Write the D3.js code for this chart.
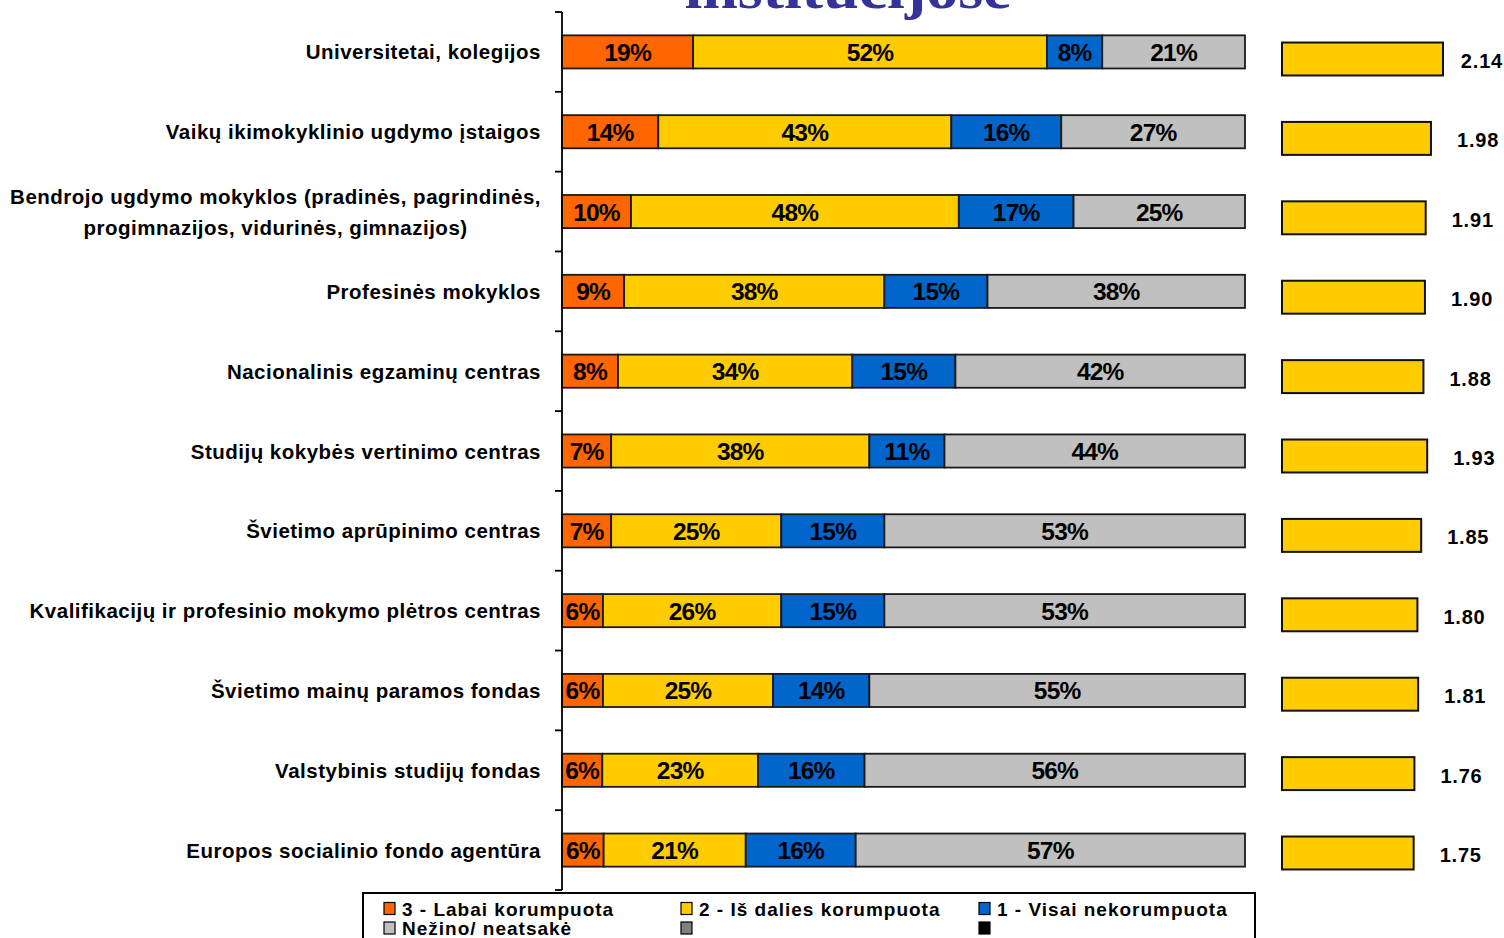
<!DOCTYPE html>
<html>
<head>
<meta charset="utf-8">
<script src="https://cdn.jsdelivr.net/npm/d3@7"></script>
<style>
  html, body { margin: 0; padding: 0; background: #fff; }
  svg { display: block; }
  text { font-family: "Liberation Sans", Arial, sans-serif; font-weight: bold; }
</style>
</head>
<body>
<svg id="chart" width="1504" height="938"></svg>
<script>
// ---------- DATA ----------
const categories = [
  "Universitetai, kolegijos",
  "Vaikų ikimokyklinio ugdymo įstaigos",
  "Bendrojo ugdymo mokyklos (pradinės, pagrindinės,\nprogimnazijos, vidurinės, gimnazijos)",
  "Profesinės mokyklos",
  "Nacionalinis egzaminų centras",
  "Studijų kokybės vertinimo centras",
  "Švietimo aprūpinimo centras",
  "Kvalifikacijų ir profesinio mokymo plėtros centras",
  "Švietimo mainų paramos fondas",
  "Valstybinis studijų fondas",
  "Europos socialinio fondo agentūra"
];
// 3 - Labai korumpuota
const labaiKorumpuota = [19.2, 14.1, 10.1, 9.1, 8.2, 7.2, 7.2, 6.0, 6.0, 5.9, 6.1];
// 2 - Iš dalies korumpuota
const isDaliesKorumpuota = [51.8, 42.9, 48.0, 38.1, 34.3, 37.8, 24.9, 26.1, 24.9, 22.8, 20.8];
// 1 - Visai nekorumpuota
const visaiNekorumpuota = [8.1, 16.1, 16.8, 15.1, 15.1, 11.0, 15.1, 15.1, 14.1, 15.6, 16.1];
// Nežino / neatsakė
const nezinoNeatsake = [20.9, 26.9, 25.1, 37.7, 42.4, 44.0, 52.8, 52.8, 55.0, 55.7, 57.0];
// Vidurkis (mean score)
const means = [2.14, 1.98, 1.91, 1.90, 1.88, 1.93, 1.85, 1.80, 1.81, 1.76, 1.75];

const seriesNames = ["3 - Labai korumpuota", "2 - Iš dalies korumpuota", "1 - Visai nekorumpuota", "Nežino/ neatsakė"];
const legendExtra = ["", ""];
const titleText = "institucijose";

// ---------- STYLE ----------
const colors = ["#FF6600", "#FFCC00", "#0066CC", "#C0C0C0"];
const extraColors = ["#808080", "#000000"];

const svg = d3.select("#chart");

// Title (cut off at top, as in the reference)
svg.append("text")
  .attr("x", 848).attr("y", 8)
  .attr("text-anchor", "middle")
  .attr("textLength", 327).attr("lengthAdjust", "spacingAndGlyphs")
  .style("font-family", "'Liberation Serif', 'Times New Roman', serif")
  .style("font-size", "56px")
  .style("fill", "#333399")
  .text(titleText);

// ---------- LEFT STACKED CHART ----------
const rows = categories.map((c, i) => ({
  cat: c,
  s0: labaiKorumpuota[i], s1: isDaliesKorumpuota[i], s2: visaiNekorumpuota[i], s3: nezinoNeatsake[i]
}));
const keys = ["s0", "s1", "s2", "s3"];
const stack = d3.stack().keys(keys)(rows);

const x = d3.scaleLinear().domain([0, 100]).range([562, 1245]);
const y = d3.scaleBand().domain(categories).range([12, 890]).paddingInner(0.585).paddingOuter(0.2925);

const gBars = svg.append("g");
stack.forEach((layer, li) => {
  const g = gBars.append("g");
  g.selectAll("rect").data(layer).join("rect")
    .attr("x", d => x(d[0]))
    .attr("y", d => y(d.data.cat))
    .attr("width", d => x(d[1]) - x(d[0]))
    .attr("height", y.bandwidth())
    .attr("fill", colors[li])
    .attr("stroke", "#1a1a1a")
    .attr("stroke-width", 1.8);
  g.selectAll("text").data(layer).join("text")
    .attr("x", d => (x(d[0]) + x(d[1])) / 2)
    .attr("y", d => y(d.data.cat) + y.bandwidth() / 2 + 9)
    .attr("text-anchor", "middle")
    .style("font-size", "24.5px")
    .style("letter-spacing", "-0.8px")
    .style("fill", "#000")
    .text(d => Math.round(d[1] - d[0]) + "%");
});

// Axis line + ticks at band boundaries
const axisG = svg.append("g");
const yr = y.range();
axisG.append("line")
  .attr("x1", 562).attr("x2", 562)
  .attr("y1", yr[0]).attr("y2", yr[1])
  .attr("stroke", "#000").attr("stroke-width", 1.8);
const tickPos = d3.range(categories.length + 1).map(i => yr[0] + i * y.step());
axisG.selectAll("line.tick").data(tickPos).join("line")
  .attr("class", "tick")
  .attr("x1", 555).attr("x2", 562)
  .attr("y1", d => d).attr("y2", d => d)
  .attr("stroke", "#000").attr("stroke-width", 1.8);

// Category labels
const labelG = svg.append("g");
categories.forEach(c => {
  const lines = c.split("\n");
  const cy = y(c) + y.bandwidth() / 2;
  const lh = 31;
  const t = labelG.append("g");
  const texts = lines.map((ln, k) => t.append("text")
    .attr("y", cy + 7.5 + (k - (lines.length - 1) / 2) * lh)
    .style("font-size", "20.5px")
    .style("letter-spacing", "0.5px")
    .style("fill", "#000")
    .text(ln));
  const widths = texts.map(tx => tx.node().getComputedTextLength());
  const maxW = d3.max(widths);
  const right = 541;
  texts.forEach(tx => tx.attr("x", right - maxW / 2).attr("text-anchor", "middle"));
});

// ---------- RIGHT MEAN BARS ----------
const xm = d3.scaleLinear().domain([0, 2.14]).range([1282, 1443]);
const ym = d3.scaleBand().domain(categories).range([19.3, 892.7]).paddingInner(0.585).paddingOuter(0.2925);
const mG = svg.append("g");
mG.selectAll("rect").data(means).join("rect")
  .attr("x", xm(0))
  .attr("y", (d, i) => ym(categories[i]))
  .attr("width", d => xm(d) - xm(0))
  .attr("height", ym.bandwidth())
  .attr("fill", "#FFCC00")
  .attr("stroke", "#111")
  .attr("stroke-width", 2);
mG.selectAll("text").data(means).join("text")
  .attr("y", (d, i) => ym(categories[i]) + ym.bandwidth() / 2 + 9)
  .style("font-size", "20px")
  .style("letter-spacing", "0.8px")
  .style("fill", "#000")
  .text(d => d3.format(".2f")(d))
  .each(function (d) {
    const w = this.getComputedTextLength();
    d3.select(this).attr("x", Math.min(xm(d) + 26, 1503 - w));
  });

// ---------- LEGEND ----------
const leg = svg.append("g");
leg.append("rect")
  .attr("x", 363).attr("y", 893).attr("width", 892).attr("height", 70)
  .attr("fill", "#fff").attr("stroke", "#000").attr("stroke-width", 2);
const legItems = seriesNames.map((n, i) => ({ name: n, color: colors[i] }))
  .concat(legendExtra.map((n, i) => ({ name: n, color: extraColors[i] })));
const colX = [384, 681, 979];
const rowY = [908.5, 928];
legItems.forEach((it, i) => {
  const cx = colX[i % 3], ry = rowY[Math.floor(i / 3)];
  leg.append("rect")
    .attr("x", cx).attr("y", ry - 6).attr("width", 11).attr("height", 12)
    .attr("fill", it.color).attr("stroke", "#000").attr("stroke-width", 1.2);
  if (it.name) {
    leg.append("text")
      .attr("x", cx + 18).attr("y", ry + 7)
      .style("font-size", "19px")
      .style("letter-spacing", "1px")
      .style("fill", "#000")
      .text(it.name);
  }
});
</script>
</body>
</html>
